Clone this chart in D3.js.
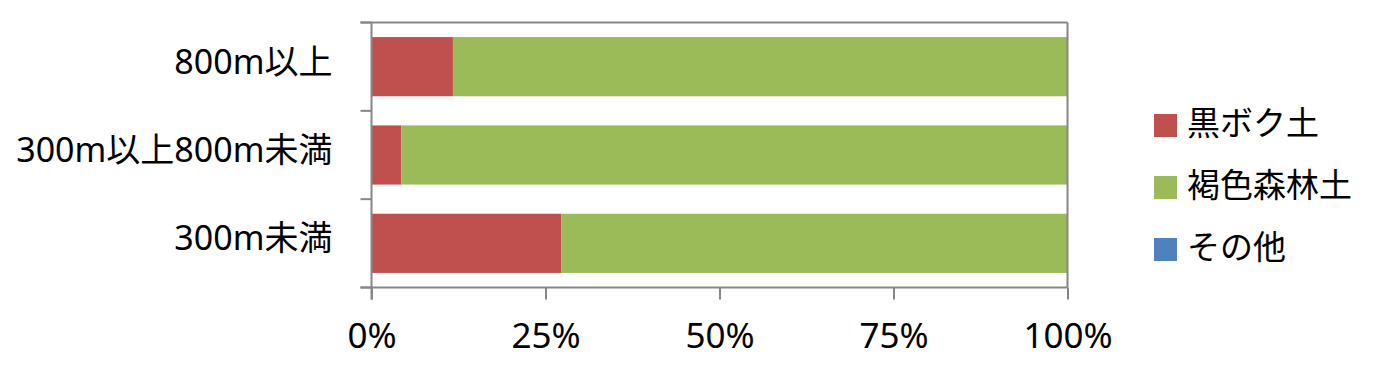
<!DOCTYPE html>
<html><head><meta charset="utf-8">
<script src="https://cdn.jsdelivr.net/npm/d3@7"></script>
<style>
body{margin:0;background:#fff;}
text{font-family:"Noto Sans","Noto Sans CJK JP",sans-serif;fill:#000;}
</style></head>
<body><svg id="c" width="1375" height="375"></svg>
<script>
const categories = ["800m以上", "300m以上800m未満", "300m未満"];
const seriesNames = ["黒ボク土", "褐色森林土", "その他"];
const kuroboku = [11.7, 4.3, 27.3];
const kasshoku = [88.3, 95.7, 72.7];
const sonota = [0, 0, 0];
const tickValues = [0, 25, 50, 75, 100];
const colors = ["#c0504d", "#9bbb59", "#4f81bd"];

const svg = d3.select("#c");
const L = 371.5, R = 1067.5, T = 22.5, B = 287.5;
const x = d3.scaleLinear().domain([0, 100]).range([L, R]);
const y = d3.scaleBand().domain(categories).range([T, B]).paddingInner(0.33).paddingOuter(0.165);
const yb = d3.scaleBand().domain(categories).range([T, B]);

const data = categories.map((c, i) => ({cat: c, "黒ボク土": kuroboku[i], "褐色森林土": kasshoku[i], "その他": sonota[i]}));
const stacked = d3.stack().keys(seriesNames)(data);

const g = svg.append("g");
g.selectAll("g.s").data(stacked).join("g").attr("fill", (d, i) => colors[i])
  .selectAll("rect").data(d => d).join("rect")
  .attr("x", d => x(d[0])).attr("width", d => x(d[1]) - x(d[0]))
  .attr("y", d => y(d.data.cat)).attr("height", y.bandwidth());

const axisColor = "#868686";
svg.append("line").attr("x1", L - 11).attr("x2", R).attr("y1", T).attr("y2", T).attr("stroke", axisColor).attr("stroke-width", 2);
svg.append("line").attr("x1", R).attr("x2", R).attr("y1", T).attr("y2", B).attr("stroke", axisColor).attr("stroke-width", 2);

// y axis (category)
const yAxis = d3.axisLeft(yb).tickSize(0).tickPadding(39);
const ya = svg.append("g").attr("transform", `translate(${L},0)`).call(yAxis);
ya.select(".domain").remove();
ya.selectAll("text").attr("font-size", 34).attr("dy", 0).attr("y", 7);
const bounds = categories.map(c => yb(c)).concat([B]);
svg.selectAll("line.yt").data(bounds).join("line")
  .attr("x1", L - 11).attr("x2", L).attr("y1", d => d).attr("y2", d => d)
  .attr("stroke", axisColor).attr("stroke-width", 2);
svg.append("line").attr("x1", L).attr("x2", L).attr("y1", T).attr("y2", B + 12).attr("stroke", axisColor).attr("stroke-width", 2);

// x axis
const xAxis = d3.axisBottom(x).tickValues(tickValues).tickFormat(d => d + "%").tickSize(12);
const xa = svg.append("g").attr("transform", `translate(0,${B})`).call(xAxis);
xa.select(".domain").attr("stroke", axisColor).attr("stroke-width", 2).attr("d", `M${L - 11},0H${R}`);
xa.selectAll(".tick line").attr("stroke", axisColor).attr("stroke-width", 2);
xa.selectAll("text").attr("font-size", 35).attr("dy", 0).attr("y", 60);

// legend
const lg = svg.append("g");
seriesNames.forEach((s, i) => {
  const yy = 114 + i * 62;
  lg.append("rect").attr("x", 1154).attr("y", yy).attr("width", 23).attr("height", 23).attr("fill", colors[i]);
  lg.append("text").attr("x", 1187).attr("y", yy + 21).attr("font-size", 33).text(s);
});
</script></body></html>
